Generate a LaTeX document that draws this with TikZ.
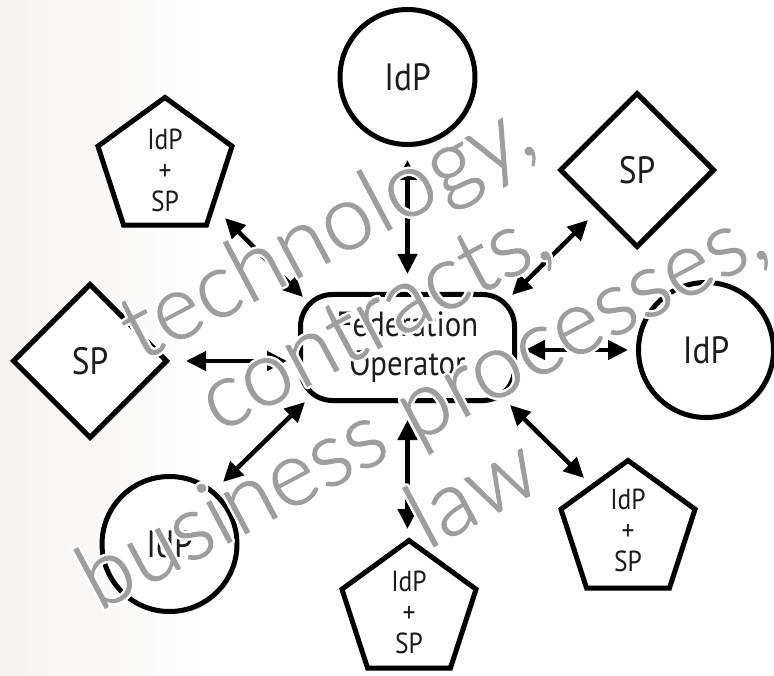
\documentclass[tikz,border=0pt]{standalone}
\usepackage{fontspec}
\usetikzlibrary{shapes.geometric,arrows.meta,shadows}
\setmainfont{PT Sans}
\newfontfamily\labelfont{PT Sans}[FakeStretch=0.88]
% a light sans for the big lettering, with fallbacks
\IfFontExistsTF{Lato Light}{\newfontfamily\themefont{Lato Light}[FakeBold=1.2]}{%
 \IfFontExistsTF{Lato-Light.ttf}{\newfontfamily\themefont{Lato-Light.ttf}[FakeBold=1.2]}{%
  \IfFontExistsTF{Open Sans Light}{\newfontfamily\themefont{Open Sans Light}[FakeBold=1.2]}{%
   \IfFontExistsTF{DejaVu Sans ExtraLight}{\newfontfamily\themefont{DejaVu Sans ExtraLight}[FakeBold=1.2]}{%
    \newfontfamily\themefont{Liberation Sans}}}}}
\definecolor{ink}{HTML}{1E1B1C}
\definecolor{themegray}{HTML}{9E9E9E}
\definecolor{paper}{HTML}{F5F3F1}

\begin{document}
\begin{tikzpicture}[x=1pt,y=-1pt,
  shapeline/.style={draw=black, line width=5pt, fill=white, text=ink,
    drop shadow={opacity=0.18, shadow xshift=2pt, shadow yshift=-3pt}},
  idp/.style={shapeline, circle, minimum size=135pt, inner sep=0pt,
    font=\labelfont\fontsize{38}{40}\selectfont},
  sp/.style={shapeline, diamond, minimum size=155pt, inner sep=0pt,
    font=\labelfont\fontsize{38}{40}\selectfont},
  pent/.style={shapeline, regular polygon, regular polygon sides=5,
    minimum size=141pt, inner sep=0pt},
  pentlabel/.style={align=center, text=ink, inner sep=0pt,
    font=\labelfont\fontsize{29}{31}\selectfont},
  operator/.style={shapeline, rectangle, rounded corners=32pt,
    minimum width=214pt, minimum height=106pt, align=center,
    font=\labelfont\fontsize{35}{39}\selectfont},
  conn/.style={line width=4.5pt,
    {Triangle[length=20pt,width=19pt]}-{Triangle[length=20pt,width=19pt]}},
  theme/.style={font=\themefont\fontsize{91}{100}\selectfont, rotate=28,
    anchor=base, inner sep=0pt, text=themegray},
  halo/.style={theme, text=white}
]
\useasboundingbox (0,0) rectangle (774,676);

% paper with a faint warm tint on the left
\fill[white] (0,0) rectangle (774,676);
\shade[left color=paper, right color=white] (0,0) rectangle (220,676);

% federation members around the operator
\node[operator] (fo) at (407.5,347.5) {Federation\\Operator};
\node[idp] (idpT) at (407.5,77) {IdP};
\node[idp] (idpR) at (706,350) {IdP};
\node[idp] (idpBL) at (169.5,544) {IdP};
\node[sp] (spTR) at (637,170) {SP};
\node[sp] (spL) at (90,361) {SP};
\node[pent] (pTL) at (165,168) {};
\node[pent] (pB) at (409,611) {};
\node[pent] (pBR) at (628,531) {};
\node[pentlabel] (pTLt) at (165,170) {IdP\\+\\SP};
\node[pentlabel] (pBt) at (409,612) {IdP\\+\\SP};
\node[pentlabel] (pBRt) at (628,530) {IdP\\+\\SP};

% two-way links to the operator
\draw[conn] ([shift={(0,83)}]idpT.center) -- ([shift={(0,-73.5)}]fo.center);
\draw[conn] ([shift={(0,72.5)}]fo.center) -- ([shift={(-1.5,-82)}]pB.center);
\draw[conn] ([shift={(96,0)}]spL.center) -- ([shift={(-120.5,13.5)}]fo.center);
\draw[conn] ([shift={(117.5,2.5)}]fo.center) -- ([shift={(-78,0)}]idpR.center);
\draw[conn] ([shift={(60,50)}]pTL.center) -- ([shift={(-104.5,-50.5)}]fo.center);
\draw[conn] ([shift={(104.5,-52.5)}]fo.center) -- ([shift={(-49,50)}]spTR.center);
\draw[conn] ([shift={(-102.5,54.5)}]fo.center) -- ([shift={(53.5,-62)}]idpBL.center);
\draw[conn] ([shift={(102.5,57.5)}]fo.center) -- ([shift={(-44,-53)}]pBR.center);

% the four pillars, lettered over everything with a white halo
\foreach \n/\x/\y/\t in {1/340/256/{technology,}, 2/387/344/{contracts,},
                         3/435/433/{business processes,}, 4/486/519/{law}} {
  \foreach \a in {0,30,...,330}
    \node[halo] (h\n-\a) at ([shift={(\a:2.4pt)}]\x,\y) {\t};
  \node[theme] (theme\n) at (\x,\y) {\t};
}
\end{tikzpicture}
\end{document}
